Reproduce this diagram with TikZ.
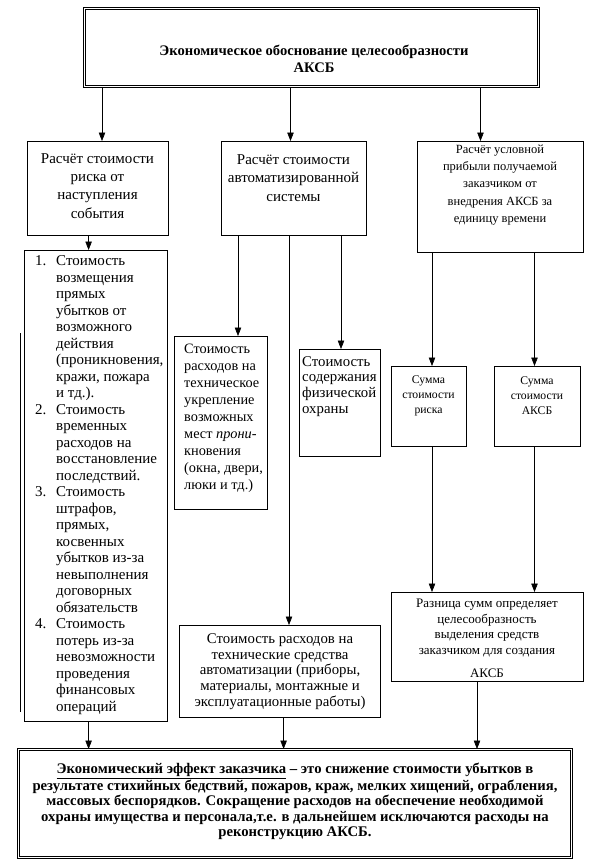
\documentclass[tikz,border=0pt]{standalone}
\usepackage{fontspec}
\setmainfont{Liberation Serif}
\usetikzlibrary{arrows.meta}
\begin{document}
\begin{tikzpicture}[x=1pt,y=-1pt,
  box/.style={draw, line width=0.8pt, anchor=north west, inner sep=0pt},
  dbox/.style={draw, double, double distance=1.1pt, line width=0.8pt, anchor=north west, inner sep=0pt},
  txt/.style={inner sep=0pt, align=center},
  ltxt/.style={inner sep=0pt, align=left, anchor=west},
  arr/.style={line width=0.6pt, -{Triangle[length=8.5pt,width=6.5pt]}},
  ln/.style={line width=0.6pt}]
\useasboundingbox (0,0) rectangle (606,862);
\fill[white] (0,0) rectangle (606,862);

% boxes
\node[dbox, minimum width=454pt, minimum height=78pt] (top) at (84,8) {};
\node[box, minimum width=141pt, minimum height=94pt] (b1) at (27,141) {};
\node[box, minimum width=145pt, minimum height=94pt] (b2) at (221,141) {};
\node[box, minimum width=166pt, minimum height=111pt] (b3) at (417,141) {};
\node[box, minimum width=143pt, minimum height=471pt] (L) at (24,250) {};
\node[box, minimum width=93pt, minimum height=173pt] (c1) at (174,336) {};
\node[box, minimum width=81pt, minimum height=107pt] (c2) at (299,349) {};
\node[box, minimum width=75pt, minimum height=80pt] (c3) at (391,366) {};
\node[box, minimum width=86pt, minimum height=80pt] (c4) at (494,366) {};
\node[box, minimum width=192pt, minimum height=89pt] (d1) at (391,592) {};
\node[box, minimum width=201pt, minimum height=92pt] (d2) at (179,625) {};
\node[dbox, minimum width=553pt, minimum height=108pt] (E) at (18,749) {};

% scan shadow line on the left of the list
\draw[line width=0.5pt] (20.5,333) -- (20.5,712);

% texts
\node[txt, font=\bfseries\fontsize{14.6}{16.5}\selectfont] (topT) at (314,58.7)
  {Экономическое обоснование целесообразности\\АКСБ};
\node[txt, font=\fontsize{15}{18.2}\selectfont] (b1T) at (97.5,186)
  {Расчёт стоимости\\риска от\\наступления\\события};
\node[txt, font=\fontsize{15}{18.2}\selectfont] (b2T) at (293.5,178)
  {Расчёт стоимости\\автоматизированной\\системы};
\node[txt, font=\fontsize{12.5}{17.3}\selectfont] (b3T) at (500,185)
  {Расчёт условной\\прибыли получаемой\\заказчиком от\\внедрения АКСБ за\\единицу времени};
\node[ltxt, font=\fontsize{15}{16.5}\selectfont] (LT) at (35,485)
  {\begin{tabular}{@{}p{21pt}@{}l@{}}
  1. & Стоимость\\
     & возмещения\\
     & прямых\\
     & убытков от\\
     & возможного\\
     & действия\\
     & (проникновения,\\
     & кражи, пожара\\
     & и тд.).\\
  2. & Стоимость\\
     & временных\\
     & расходов на\\
     & восстановление\\
     & последствий.\\
  3. & Стоимость\\
     & штрафов,\\
     & прямых,\\
     & косвенных\\
     & убытков из-за\\
     & невыполнения\\
     & договорных\\
     & обязательств\\
  4. & Стоимость\\
     & потерь из-за\\
     & невозможности\\
     & проведения\\
     & финансовых\\
     & операций
  \end{tabular}};
\node[ltxt, font=\fontsize{14.3}{17}\selectfont] (c1T) at (184,418)
  {Стоимость\\расходов на\\техническое\\укрепление\\возможных\\мест \textit{прони-}\\кновения\\(окна, двери,\\люки и тд.)};
\node[ltxt, font=\fontsize{14.8}{15.7}\selectfont] (c2T) at (302,386.5)
  {Стоимость\\содержания\\физической\\охраны};
\node[txt, font=\fontsize{11.7}{15}\selectfont] (c3T) at (428.5,396)
  {Сумма\\стоимости\\риска};
\node[txt, font=\fontsize{11.7}{15}\selectfont] (c4T) at (537,396)
  {Сумма\\стоимости\\АКСБ};
\node[txt, font=\fontsize{13}{15.5}\selectfont] (d1T) at (487,638.5)
  {Разница сумм определяет\\целесообразность\\выделения средств\\заказчиком для создания\\[8pt]АКСБ};
\node[txt, font=\fontsize{14.8}{15.8}\selectfont] (d2T) at (280,671.5)
  {Стоимость расходов на\\технические средства\\автоматизации (приборы,\\материалы, монтажные и\\эксплуатационные работы)};
\node[txt, font=\bfseries\fontsize{14.7}{15.6}\selectfont] (ET) at (295,801.5)
  {\underline{Экономический эффект заказчика} --  это снижение стоимости убытков в\\
   результате стихийных бедствий, пожаров, краж, мелких хищений, ограбления,\\
   массовых беспорядков. Сокращение расходов на обеспечение необходимой\\
   охраны имущества и персонала,т.е. в дальнейшем исключаются расходы на\\
   реконструкцию АКСБ.};

% x positions of connectors
\coordinate (xa) at (102,0);
\coordinate (xb) at (290.5,0);
\coordinate (xc) at (480.5,0);
\coordinate (xd) at (88.6,0);
\coordinate (xe) at (238,0);
\coordinate (xf) at (289,0);
\coordinate (xg) at (341,0);
\coordinate (xh) at (432,0);
\coordinate (xi) at (534.5,0);
\coordinate (xj) at (283.6,0);
\coordinate (xk) at (477,0);

% connectors
\draw[arr] (top.south -| xa) -- (b1.north -| xa);
\draw[arr] (top.south -| xb) -- (b2.north -| xb);
\draw[arr] (top.south -| xc) -- (b3.north -| xc);
\draw[arr] (b1.south -| xd) -- (L.north -| xd);
\draw[arr] (b2.south -| xe) -- (c1.north -| xe);
\draw[arr] (b2.south -| xf) -- (d2.north -| xf);
\draw[arr] (b2.south -| xg) -- (c2.north -| xg);
\draw[arr] (b3.south -| xh) -- (c3.north -| xh);
\draw[arr] (b3.south -| xi) -- (c4.north -| xi);
\draw[arr] (c3.south -| xh) -- (d1.north -| xh);
\draw[arr] (c4.south -| xi) -- (d1.north -| xi);
\draw[arr] (L.south -| xd) -- (E.north -| xd);
\draw[arr] (d2.south -| xj) -- (E.north -| xj);
\draw[arr] (d1.south -| xk) -- (E.north -| xk);
\end{tikzpicture}
\end{document}
